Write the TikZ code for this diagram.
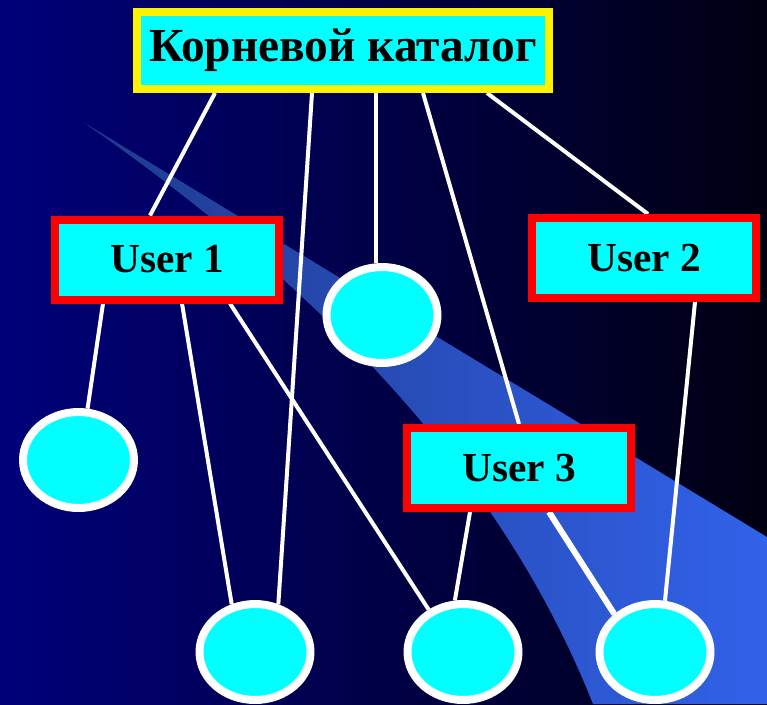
\documentclass[tikz,border=0pt]{standalone}
\usepackage{fontspec}
\setmainfont{Liberation Serif}
\usepackage{tikz}
\usetikzlibrary{calc, shapes.geometric, backgrounds}
\definecolor{slidebg}{HTML}{00007A}
\definecolor{slidedark}{HTML}{000012}
\definecolor{swooshl}{HTML}{1E3A8C}
\definecolor{swooshr}{HTML}{3262EA}
\definecolor{boxfill}{HTML}{00FFFF}

\begin{document}
\begin{tikzpicture}[x=0.02cm, y=-0.02cm,
    box/.style={draw=#1, line width=0.16cm, fill=boxfill, inner sep=0pt, minimum width=4.48cm, minimum height=1.6cm, font=\fontsize{23.5}{28}\selectfont\bfseries},
    leaf/.style={ellipse, draw=white, line width=0.16cm, fill=boxfill, inner sep=0pt, minimum width=2.22cm, minimum height=1.92cm},
    link/.style={white, line width=0.08cm}
]
\useasboundingbox (0,0) rectangle (767,704);
\node[box=yellow, minimum width=8.24cm, minimum height=1.54cm, font=\fontsize{27}{32}\selectfont\bfseries] (root) at (343,50.5) {Корневой каталог};
\node[box=red] (user1) at (167,259.5) {User 1};
\node[box=red] (user2) at (644,258) {User 2};
\node[box=red] (user3) at (519,468) {User 3};
\node[leaf] (mid) at (382,315) {};
\node[leaf] (lft) at (78.5,460) {};
\node[leaf] (e1) at (255,652) {};
\node[leaf] (e2) at (463,652) {};
\node[leaf] (e3) at (655,652) {};

\begin{scope}[on background layer]
% slide background and swoosh
\shade[left color=slidebg, right color=slidedark] (0,0) rectangle (767,704);
\shade[left color=swooshl, right color=swooshr] (83,122) -- (767,537) -- (767,704) -- (593,704) .. controls (520,520) and (375,325) .. cycle;
% links
\draw[link] ($(root.south)+(-128,0)$) -- ($(user1.north)+(-17,0)$);
\draw[link] ($(root.south)+(-31,0)$) -- (e1.64);
\draw[link] ($(root.south)+(33,0)$) coordinate (drop) -- (drop |- mid.north);
\draw[link] ($(root.south)+(80,0)$) -- (user3.north);
\draw[link] ($(root.south)+(144,0)$) -- ($(user2.north)+(4,0)$);
\draw[link] ($(user1.south)+(-64,0)$) -- (lft.80);
\draw[link] ($(user1.south)+(15,0)$) -- (e1.116);
\draw[link] ($(user1.south)+(63,0)$) -- (e2.129);
\draw[link] ($(user3.south)+(-49,0)$) -- (e2.99);
\draw[link, line width=0.12cm] ($(user3.south)+(30,0)$) -- (e3.137);
\draw[link] ($(user2.south)+(51,0)$) -- (e3.79);
\end{scope}
\end{tikzpicture}
\end{document}
